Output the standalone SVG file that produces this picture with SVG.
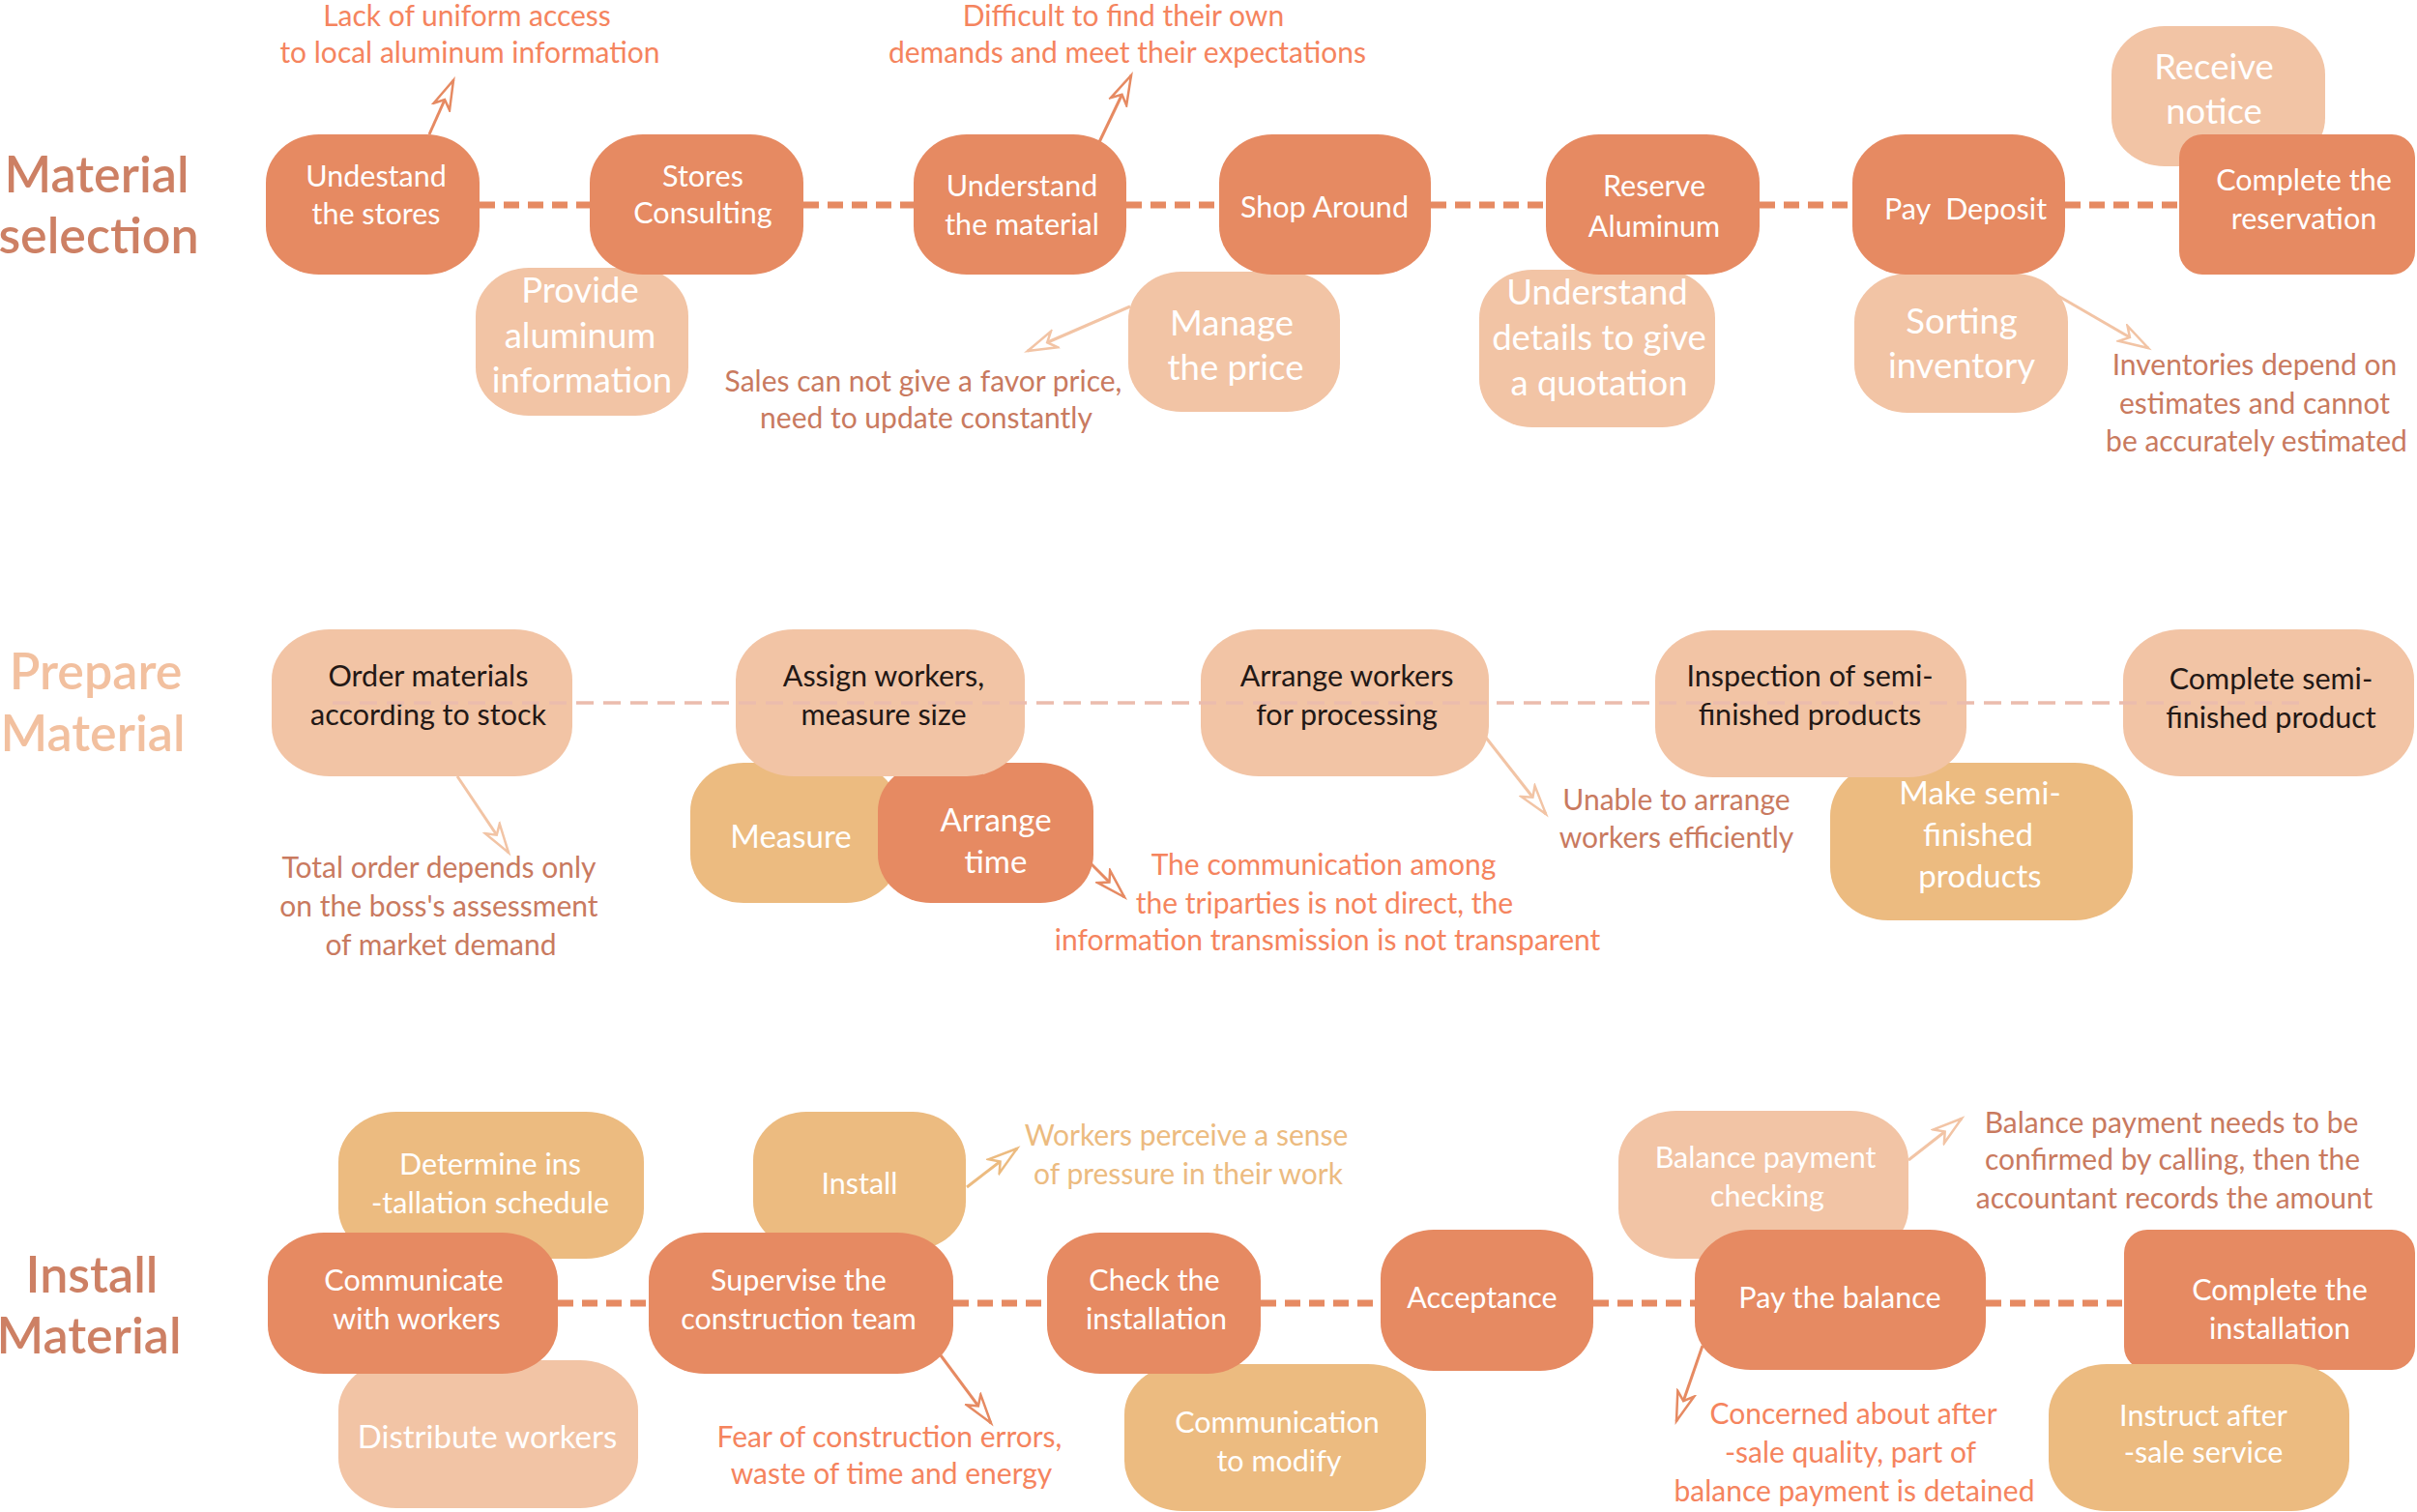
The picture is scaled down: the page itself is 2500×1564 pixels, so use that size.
<svg xmlns="http://www.w3.org/2000/svg" width="2500" height="1564" viewBox="0 0 2500 1564">
<defs>
<style>
text{font-family:Lato,"Open Sans","Noto Sans",sans-serif;text-anchor:middle}
.dk{fill:#e68a62}
.lt{fill:#f2c4a5}
.tn{fill:#ecbb80}
.w{fill:#ffffff;font-size:30.5px}
.wb{fill:#ffffff;font-size:36.5px}
.wm{fill:#ffffff;font-size:33px}
.bk{fill:#231815;font-size:30.5px}
.title{font-size:52px;font-weight:600}
.t1{fill:#cd8064}
.t2{fill:#f2c09f}
.br{fill:#c97a5f;font-size:30px}
.or{fill:#f5845e;font-size:30px}
.tnt{fill:#ecbb80;font-size:30px}
.dash1{stroke:#e68a62;stroke-width:7;stroke-dasharray:16 9;fill:none}
.dash2{stroke:#ebbcad;stroke-width:3.5;stroke-dasharray:18 10;fill:none}
.adk{stroke:#e68a62;stroke-width:3;fill:none;marker-end:url(#mdk)}
.alt{stroke:#f2c4a5;stroke-width:3;fill:none;marker-end:url(#mlt)}
.atn{stroke:#ecbb80;stroke-width:3;fill:none;marker-end:url(#mtn)}
</style>
<marker id="mdk" markerUnits="userSpaceOnUse" markerWidth="40" markerHeight="24" viewBox="0 0 40 24" refX="32" refY="12" orient="auto"><path d="M2,3 L32,12 L2,21 L10,12 Z" fill="#ffffff" stroke="#e68a62" stroke-width="2.5"/></marker>
<marker id="mlt" markerUnits="userSpaceOnUse" markerWidth="40" markerHeight="24" viewBox="0 0 40 24" refX="32" refY="12" orient="auto"><path d="M2,3 L32,12 L2,21 L10,12 Z" fill="#ffffff" stroke="#f2c4a5" stroke-width="2.5"/></marker>
<marker id="mtn" markerUnits="userSpaceOnUse" markerWidth="40" markerHeight="24" viewBox="0 0 40 24" refX="32" refY="12" orient="auto"><path d="M2,3 L32,12 L2,21 L10,12 Z" fill="#ffffff" stroke="#ecbb80" stroke-width="2.5"/></marker>
</defs>
<rect width="2500" height="1564" fill="#ffffff"/>

<!-- Row titles -->
<g id="title-material-selection"><text class="title t1" x="100" y="199">Material</text><text class="title t1" x="102" y="262">selection</text></g>
<g id="title-prepare-material"><text class="title t2" x="99" y="713">Prepare</text><text class="title t2" x="96" y="777">Material</text></g>
<g id="title-install-material"><text class="title t1" x="95" y="1337">Install</text><text class="title t1" x="92" y="1400">Material</text></g>

<!-- Row 1 -->
<g id="n-provide-info"><rect class="lt" x="492" y="277" width="220" height="153" rx="55" ry="50"/><text class="wb" x="600" y="313">Provide</text><text class="wb" x="600" y="360">aluminum</text><text class="wb" x="602" y="406">information</text></g>
<g id="n-understand-stores"><rect class="dk" x="275" y="139" width="221" height="145" rx="55" ry="50"/><text class="w" x="389" y="193">Undestand</text><text class="w" x="389" y="232">the stores</text></g>
<g id="n-stores-consulting"><rect class="dk" x="610" y="139" width="221" height="145" rx="55" ry="50"/><text class="w" x="727" y="193">Stores</text><text class="w" x="727" y="231">Consulting</text></g>
<g id="n-manage-price"><rect class="lt" x="1167" y="281" width="219" height="145" rx="55" ry="50"/><text class="wb" x="1274" y="347">Manage</text><text class="wb" x="1278" y="393">the price</text></g>
<g id="n-understand-material"><rect class="dk" x="945" y="139" width="220" height="145" rx="55" ry="50"/><text class="w" x="1057" y="203">Understand</text><text class="w" x="1057" y="243">the material</text></g>
<g id="n-shop-around"><rect class="dk" x="1261" y="139" width="219" height="145" rx="55" ry="50"/><text class="w" x="1370" y="225">Shop Around</text></g>
<g id="n-understand-details"><rect class="lt" x="1530" y="279" width="244" height="163" rx="55" ry="50"/><text class="wb" x="1652" y="315">Understand</text><text class="wb" x="1654" y="362">details to give</text><text class="wb" x="1654" y="409">a quotation</text></g>
<g id="n-reserve-aluminum"><rect class="dk" x="1599" y="139" width="221" height="145" rx="55" ry="50"/><text class="w" x="1711" y="203">Reserve</text><text class="w" x="1711" y="245">Aluminum</text></g>
<g id="n-sorting-inventory"><rect class="lt" x="1918" y="283" width="221" height="144" rx="55" ry="50"/><text class="wb" x="2029" y="345">Sorting</text><text class="wb" x="2029" y="391">inventory</text></g>
<g id="n-pay-deposit"><rect class="dk" x="1916" y="139" width="220" height="145" rx="55" ry="50"/><text class="w" x="2033" y="227" xml:space="preserve">Pay  Deposit</text></g>
<g id="n-receive-notice"><rect class="lt" x="2184" y="27" width="221" height="145" rx="55" ry="50"/><text class="wb" x="2290" y="82">Receive</text><text class="wb" x="2290" y="128">notice</text></g>
<g id="n-complete-reservation"><rect class="dk" x="2254" y="139" width="244" height="145" rx="24" ry="24"/><text class="w" x="2383" y="197">Complete the</text><text class="w" x="2383" y="237">reservation</text></g>

<g id="a-lack"><text class="or" x="483" y="27">Lack of uniform access</text><text class="or" x="486" y="65">to local aluminum information</text></g>
<g id="a-difficult"><text class="or" x="1162" y="27">Difficult to find their own</text><text class="or" x="1166" y="65">demands and meet their expectations</text></g>
<g id="a-sales"><text class="br" x="955" y="405">Sales can not give a favor price,</text><text class="br" x="958" y="443">need to update constantly</text></g>
<g id="a-inventories"><text class="br" x="2332" y="388">Inventories depend on</text><text class="br" x="2332" y="428">estimates and cannot</text><text class="br" x="2334" y="467">be accurately estimated</text></g>

<!-- Row 2 -->
<g id="n-order-materials"><rect class="lt" x="281" y="651" width="311" height="152" rx="60" ry="52"/><text class="bk" x="443" y="710">Order materials</text><text class="bk" x="443" y="750">according to stock</text></g>
<g id="n-measure"><rect class="tn" x="714" y="789" width="216" height="145" rx="55" ry="50"/><text class="wm" x="818" y="877">Measure</text></g>
<g id="n-arrange-time"><rect class="dk" x="908" y="789" width="223" height="145" rx="55" ry="50"/><text class="wm" x="1030" y="860">Arrange</text><text class="wm" x="1030" y="903">time</text></g>
<g id="n-assign-workers"><rect class="lt" x="761" y="651" width="299" height="152" rx="60" ry="52"/><text class="bk" x="914" y="710">Assign workers,</text><text class="bk" x="914" y="750">measure size</text></g>
<g id="n-arrange-workers"><rect class="lt" x="1242" y="651" width="298" height="152" rx="60" ry="52"/><text class="bk" x="1393" y="710">Arrange workers</text><text class="bk" x="1393" y="750">for processing</text></g>
<g id="n-make-semi"><rect class="tn" x="1893" y="789" width="313" height="163" rx="60" ry="55"/><text class="wm" x="2048" y="832">Make semi-</text><text class="wm" x="2046" y="875">finished</text><text class="wm" x="2048" y="918">products</text></g>
<g id="n-inspection"><rect class="lt" x="1712" y="652" width="322" height="152" rx="60" ry="52"/><text class="bk" x="1872" y="710">Inspection of semi-</text><text class="bk" x="1872" y="750">finished products</text></g>
<g id="n-complete-semi"><rect class="lt" x="2196" y="651" width="301" height="152" rx="60" ry="52"/><text class="bk" x="2349" y="713">Complete semi-</text><text class="bk" x="2349" y="753">finished product</text></g>

<g id="a-total-order"><text class="br" x="454" y="908">Total order depends only</text><text class="br" x="454" y="948">on the boss's assessment</text><text class="br" x="456" y="988">of market demand</text></g>
<g id="a-communication"><text class="or" x="1369" y="905">The communication among</text><text class="or" x="1370" y="945">the triparties is not direct, the</text><text class="or" x="1373" y="983">information transmission is not transparent</text></g>
<g id="a-unable"><text class="br" x="1734" y="838">Unable to arrange</text><text class="br" x="1734" y="877">workers efficiently</text></g>

<!-- Row 3 -->
<g id="n-determine-schedule"><rect class="tn" x="350" y="1150" width="316" height="152" rx="60" ry="52"/><text class="w" x="507" y="1215">Determine ins</text><text class="w" x="507" y="1255">-tallation schedule</text></g>
<g id="n-distribute-workers"><rect class="lt" x="350" y="1407" width="310" height="153" rx="60" ry="52"/><text class="wm" x="504" y="1498">Distribute workers</text></g>
<g id="n-communicate-workers"><rect class="dk" x="277" y="1275" width="300" height="146" rx="58" ry="50"/><text class="w" x="428" y="1335">Communicate</text><text class="w" x="431" y="1375">with workers</text></g>
<g id="n-install"><rect class="tn" x="779" y="1150" width="220" height="143" rx="55" ry="50"/><text class="w" x="889" y="1235">Install</text></g>
<g id="n-supervise"><rect class="dk" x="671" y="1275" width="315" height="146" rx="58" ry="50"/><text class="w" x="826" y="1335">Supervise the</text><text class="w" x="826" y="1375">construction team</text></g>
<g id="n-communication-modify"><rect class="tn" x="1163" y="1411" width="312" height="152" rx="60" ry="52"/><text class="w" x="1321" y="1482">Communication</text><text class="w" x="1323" y="1522">to modify</text></g>
<g id="n-check-installation"><rect class="dk" x="1083" y="1275" width="221" height="146" rx="55" ry="50"/><text class="w" x="1194" y="1335">Check the</text><text class="w" x="1196" y="1375">installation</text></g>
<g id="n-acceptance"><rect class="dk" x="1428" y="1272" width="220" height="146" rx="55" ry="50"/><text class="w" x="1533" y="1353">Acceptance</text></g>
<g id="n-balance-checking"><rect class="lt" x="1674" y="1149" width="300" height="153" rx="60" ry="52"/><text class="w" x="1826" y="1208">Balance payment</text><text class="w" x="1828" y="1248">checking</text></g>
<g id="n-pay-balance"><rect class="dk" x="1753" y="1272" width="301" height="145" rx="58" ry="50"/><text class="w" x="1903" y="1353">Pay the balance</text></g>
<g id="n-complete-installation"><rect class="dk" x="2197" y="1272" width="301" height="145" rx="24" ry="24"/><text class="w" x="2358" y="1345">Complete the</text><text class="w" x="2358" y="1385">installation</text></g>
<g id="n-instruct-after-sale"><rect class="tn" x="2119" y="1411" width="311" height="152" rx="60" ry="52"/><text class="w" x="2279" y="1475">Instruct after</text><text class="w" x="2279" y="1513">-sale service</text></g>

<g id="a-workers-pressure"><text class="tnt" x="1227" y="1185">Workers perceive a sense</text><text class="tnt" x="1229" y="1225">of pressure in their work</text></g>
<g id="a-fear"><text class="or" x="920" y="1497">Fear of construction errors,</text><text class="or" x="922" y="1535">waste of time and energy</text></g>
<g id="a-balance-confirm"><text class="br" x="2246" y="1172">Balance payment needs to be</text><text class="br" x="2247" y="1210">confirmed by calling, then the</text><text class="br" x="2249" y="1250">accountant records the amount</text></g>
<g id="a-concerned"><text class="or" x="1917" y="1473">Concerned about after</text><text class="or" x="1914" y="1513">-sale quality, part of</text><text class="or" x="1918" y="1553">balance payment is detained</text></g>

<!-- Connectors -->
<g id="connectors">
<path class="dash1" d="M496,212H610M831,212H945M1165,212H1261M1480,212H1599M1820,212H1916M2136,212H2254"/>
<path class="dash2" d="M344,727H2379"/>
<path class="dash1" d="M577,1348H671M986,1348H1083M1304,1348H1428M1648,1348H1753M2054,1348H2197"/>
<path class="adk" d="M444,139L469,83"/>
<path class="adk" d="M1137,147L1170,78"/>
<path class="alt" d="M1169,317L1063,363"/>
<path class="alt" d="M2127,305L2222,360"/>
<path class="alt" d="M473,803L526,882"/>
<path class="adk" d="M1128,893L1163,928"/>
<path class="alt" d="M1537,763L1599,842"/>
<path class="atn" d="M1000,1228L1052,1188"/>
<path class="adk" d="M973,1402L1025,1472"/>
<path class="alt" d="M1974,1200L2029,1157"/>
<path class="adk" d="M1761,1392L1734,1470"/>
</g>
</svg>
